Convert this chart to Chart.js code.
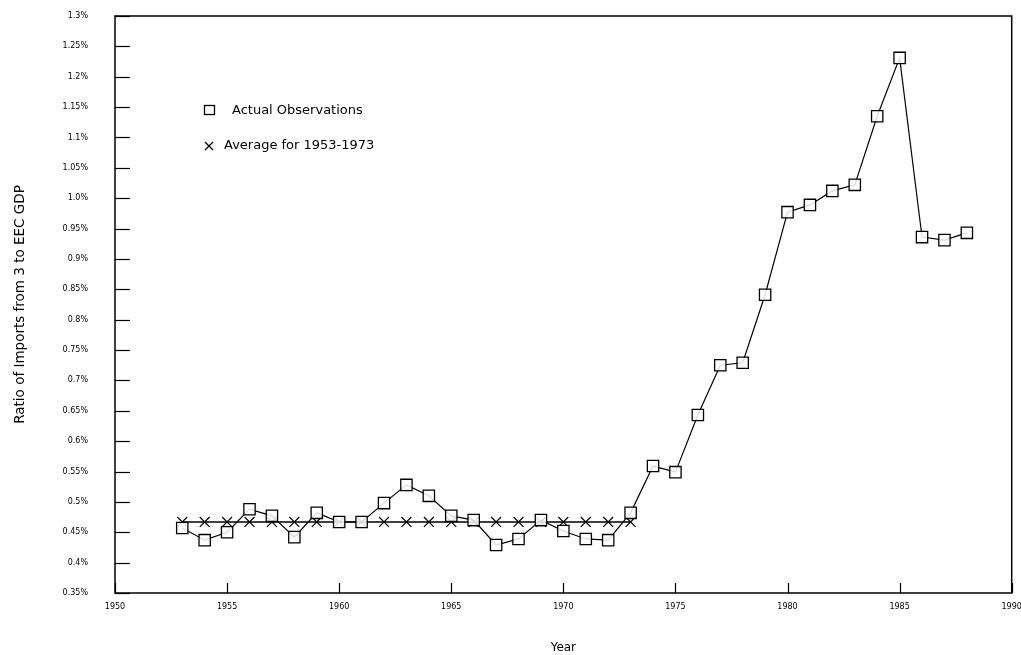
<!DOCTYPE html>
<html>
<head>
<meta charset="utf-8">
<script src="https://cdn.jsdelivr.net/npm/chart.js@4.4.1/dist/chart.umd.min.js"></script>
<style>
html,body{margin:0;padding:0;background:#fff;}
#wrap{position:relative;width:1021px;height:655px;}
</style>
</head>
<body>
<div id="wrap"><canvas id="c" width="1021" height="655"></canvas></div>
<script>
const years = [1953,1954,1955,1956,1957,1958,1959,1960,1961,1962,1963,1964,1965,1966,1967,1968,1969,1970,1971,1972,1973,1974,1975,1976,1977,1978,1979,1980,1981,1982,1983,1984,1985,1986,1987,1988];
const actual = [0.457,0.437,0.450,0.488,0.477,0.442,0.482,0.467,0.467,0.498,0.528,0.510,0.477,0.470,0.429,0.439,0.470,0.452,0.439,0.437,0.482,0.559,0.549,0.643,0.725,0.729,0.841,0.977,0.989,1.012,1.022,1.135,1.231,0.936,0.931,0.943];
const avgYears = [1953,1954,1955,1956,1957,1958,1959,1960,1961,1962,1963,1964,1965,1966,1967,1968,1969,1970,1971,1972,1973];
const avgValue = 0.467;
const xTickLabels = ["1950","1955","1960","1965","1970","1975","1980","1985","1990"];
const yTickLabels = ["0.35%","0.4%","0.45%","0.5%","0.55%","0.6%","0.65%","0.7%","0.75%","0.8%","0.85%","0.9%","0.95%","1.0%","1.05%","1.1%","1.15%","1.2%","1.25%","1.3%"];
const legendLabels = ["Actual Observations","Average for 1953-1973"];
const yTitle = "Ratio of Imports from 3 to EEC GDP";
const xTitle = "Year";

const FONT = "'DejaVu Sans', sans-serif";

const actualData = years.map((y,i)=>({x:y,y:actual[i]}));
const avgData = avgYears.map(y=>({x:y,y:avgValue}));

const innerTicks = {
  id:'innerTicks',
  afterDraw(chart){
    const ctx = chart.ctx, a = chart.chartArea;
    const xs = chart.scales.x, ys = chart.scales.y;
    ctx.save();
    ctx.strokeStyle = '#000';
    ctx.lineWidth = 1.5;
    ctx.strokeRect(a.left, a.top, a.right-a.left, a.bottom-a.top);
    ctx.lineWidth = 1.2;
    ys.ticks.forEach(t=>{
      const p = Math.round(ys.getPixelForValue(t.value))+0.5;
      ctx.beginPath(); ctx.moveTo(a.left,p); ctx.lineTo(a.left+15,p); ctx.stroke();
    });
    xs.ticks.forEach(t=>{
      const p = Math.round(xs.getPixelForValue(t.value))+0.5;
      ctx.beginPath(); ctx.moveTo(p,a.bottom); ctx.lineTo(p,a.bottom-10); ctx.stroke();
    });
    // legend
    ctx.font = "13px " + FONT;
    ctx.fillStyle = '#000';
    ctx.textBaseline = 'middle';
    ctx.lineWidth = 1.3;
    ctx.strokeRect(204.5,105.5,10,9);
    ctx.fillText(legendLabels[0], 232, 111);
    ctx.beginPath();
    ctx.moveTo(205,142); ctx.lineTo(213,150);
    ctx.moveTo(213,142); ctx.lineTo(205,150);
    ctx.stroke();
    ctx.fillText(legendLabels[1], 224, 146);
    ctx.restore();
  }
};

new Chart(document.getElementById('c'), {
  type:'line',
  data:{
    datasets:[
      {label:legendLabels[0], data:actualData, borderColor:'#000', borderWidth:1.2, backgroundColor:'#fff',
       pointStyle:'rect', pointRadius:8, pointBorderColor:'#000', pointBackgroundColor:'rgba(255,255,255,0.85)', pointBorderWidth:1.3, tension:0},
      {label:legendLabels[1], data:avgData, borderColor:'#000', borderWidth:1.5,
       pointStyle:'crossRot', pointRadius:7, pointBorderColor:'#000', pointBorderWidth:1.2, tension:0}
    ]
  },
  options:{
    responsive:false, animation:false,
    layout:{padding:{left:0,top:16,right:9,bottom:0}},
    plugins:{legend:{display:false}, tooltip:{enabled:false}},
    scales:{
      x:{type:'linear', min:1950, max:1990,
        grid:{display:false, drawTicks:false},
        border:{display:false},
        ticks:{stepSize:5, padding:9, color:'#000', font:{family:FONT,size:8},
          callback:(v)=>{const i=Math.round((v-1950)/5); return xTickLabels[i];}},
        title:{display:true, text:xTitle, color:'#000', font:{family:FONT,size:12}, padding:{top:16,bottom:0}},
        afterFit:(s)=>{s.height=62; s.paddingLeft=0; s.paddingRight=0;}
      },
      y:{type:'linear', min:0.35, max:1.30,
        grid:{display:false, drawTicks:false},
        border:{display:false},
        ticks:{stepSize:0.05, padding:27, color:'#000', font:{family:FONT,size:8},
          callback:(v)=>{const i=Math.round((v-0.35)/0.05); return yTickLabels[i];}},
        title:{display:true, text:yTitle, color:'#000', font:{family:FONT,size:13.5}, padding:{top:12,bottom:0}},
        afterFit:(s)=>{s.width=115; s.paddingTop=0; s.paddingBottom=0;}
      }
    }
  },
  plugins:[innerTicks]
});
</script>
</body>
</html>
